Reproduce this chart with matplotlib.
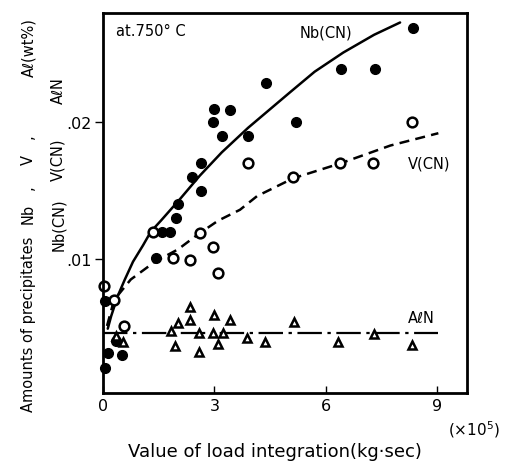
import numpy as np
import matplotlib
matplotlib.use("Agg")
import matplotlib.pyplot as plt

nb_x = [8.36, 6.42, 7.33, 4.39, 2.99, 3.42, 2.97, 5.20, 3.20, 3.91, 2.64, 2.40, 2.64,
        2.02, 1.97, 1.81, 1.59, 1.43, 0.05, 0.35, 0.14, 0.51, 0.05]
nb_y = [0.0269, 0.0239, 0.0239, 0.0229, 0.0210, 0.0209, 0.0200, 0.0200, 0.0190, 0.0190,
        0.0170, 0.0160, 0.0150, 0.0140, 0.0130, 0.0120, 0.0120, 0.0101, 0.0069, 0.0040,
        0.0031, 0.0030, 0.0020]

v_x = [8.33, 3.91, 6.39, 7.28, 5.12, 1.35, 2.61, 2.96, 1.89, 2.34, 3.10, 0.03, 0.30, 0.57]
v_y = [0.0200, 0.0170, 0.0170, 0.0170, 0.0160, 0.0120, 0.0119, 0.0109, 0.0101, 0.0099,
       0.0090, 0.0080, 0.0070, 0.0051]

aln_x = [2.34, 2.99, 2.02, 2.34, 3.42, 5.15, 1.83, 2.59, 2.96, 3.23, 3.88, 4.37, 6.33,
         7.30, 8.33, 1.94, 3.10, 2.59, 0.35, 0.54]
aln_y = [0.0065, 0.0059, 0.0053, 0.0055, 0.0055, 0.0054, 0.0047, 0.0046, 0.0046, 0.0046,
         0.0042, 0.0039, 0.0039, 0.0045, 0.0037, 0.0036, 0.0038, 0.0032, 0.0044, 0.0039]

# trend curves
nb_cx = [0.13, 0.22, 0.40, 0.59, 0.81, 1.08, 1.29, 1.56, 2.08, 2.61, 3.20, 3.91,
         5.04, 5.70, 6.47, 7.30, 8.00]
nb_cy = [0.0049, 0.0058, 0.0073, 0.0085, 0.0098, 0.0110, 0.0120, 0.0128, 0.0144, 0.0161,
         0.0178, 0.0196, 0.0222, 0.0237, 0.0251, 0.0264, 0.0273]

v_cx = [0.11, 0.30, 0.75, 1.40, 2.02, 2.56, 3.10, 3.69, 4.15, 5.12, 6.40, 7.74, 9.03]
v_cy = [0.0051, 0.0070, 0.0085, 0.0098, 0.0107, 0.0118, 0.0128, 0.0136, 0.0146, 0.0159,
        0.0170, 0.0183, 0.0192]

aln_cx = [0.0, 9.03]
aln_cy = [0.0046, 0.0046]

xticks = [0, 3, 6, 9]
xtick_labels = ["0", "3", "6", "9"]
yticks = [0.01, 0.02]
ytick_labels = [".01", ".02"]

plt.rcParams['font.family'] = ['DejaVu Sans']

fig = plt.figure(figsize=(5.07, 4.64), dpi=100)
ax = fig.add_axes([0.203, 0.151, 0.718, 0.819])

ax.plot(nb_cx, nb_cy, color='black', lw=1.8, solid_capstyle='round')
ax.plot(v_cx, v_cy, color='black', lw=1.8, linestyle=(0, (4, 2.5)))
ax.plot(aln_cx, aln_cy, color='black', lw=1.6, linestyle=(0, (11, 2.5, 1.5, 2.5)))

ax.plot(nb_x, nb_y, 'o', color='black', ms=7, clip_on=False)
ax.plot(v_x, v_y, 'o', mfc='white', mec='black', mew=1.8, ms=7, clip_on=False)
ax.plot(aln_x, aln_y, '^', mfc='white', mec='black', mew=1.8, ms=5.5, clip_on=False)

ax.set_xlim(0, 9.8)
ax.set_ylim(0.0002, 0.028)
ax.set_xticks(xticks)
ax.set_xticklabels(xtick_labels, fontsize=11.5)
ax.set_yticks(yticks)
ax.set_yticklabels(ytick_labels, fontsize=11.5)
ax.tick_params(axis='x', direction='in', length=5, width=1, pad=4)
ax.tick_params(axis='y', direction='out', length=6, width=1, pad=2)
for s in ax.spines.values():
    s.set_linewidth(2)

ax.text(0.35, 0.0267, "at.750° C", fontsize=10.5, va='center')
ax.text(6.0, 0.0266, "Nb(CN)", fontsize=10.5, va='center', ha='center')
ax.text(8.2, 0.01705, "V(CN)", fontsize=10.5, va='center')
ax.text(8.2, 0.0057, "AℓN", fontsize=10.5, va='center')

# axis titles
fig.text(0.543, 0.026, "Value of load integration(kg·sec)", fontsize=13, ha='center', va='center')
fig.text(0.935, 0.073, "(×10$^5$)", fontsize=11, ha='center', va='center')

fig.text(0.056, 0.30, "Amounts of precipitates", rotation=90, fontsize=10.5, ha='center', va='center')
fig.text(0.056, 0.54, "Nb", rotation=90, fontsize=10.5, ha='center', va='center')
fig.text(0.056, 0.655, "V", rotation=90, fontsize=10.5, ha='center', va='center')
fig.text(0.056, 0.898, "Aℓ(wt%)", rotation=90, fontsize=10.5, ha='center', va='center')
fig.text(0.056, 0.596, ",", rotation=90, fontsize=10.5, ha='center', va='center')
fig.text(0.056, 0.705, ",", rotation=90, fontsize=10.5, ha='center', va='center')
fig.text(0.115, 0.515, "Nb(CN)", rotation=90, fontsize=10.5, ha='center', va='center')
fig.text(0.115, 0.655, "V(CN)", rotation=90, fontsize=10.5, ha='center', va='center')
fig.text(0.115, 0.805, "AℓN", rotation=90, fontsize=10.5, ha='center', va='center')

fig.savefig("out.png", dpi=100)
